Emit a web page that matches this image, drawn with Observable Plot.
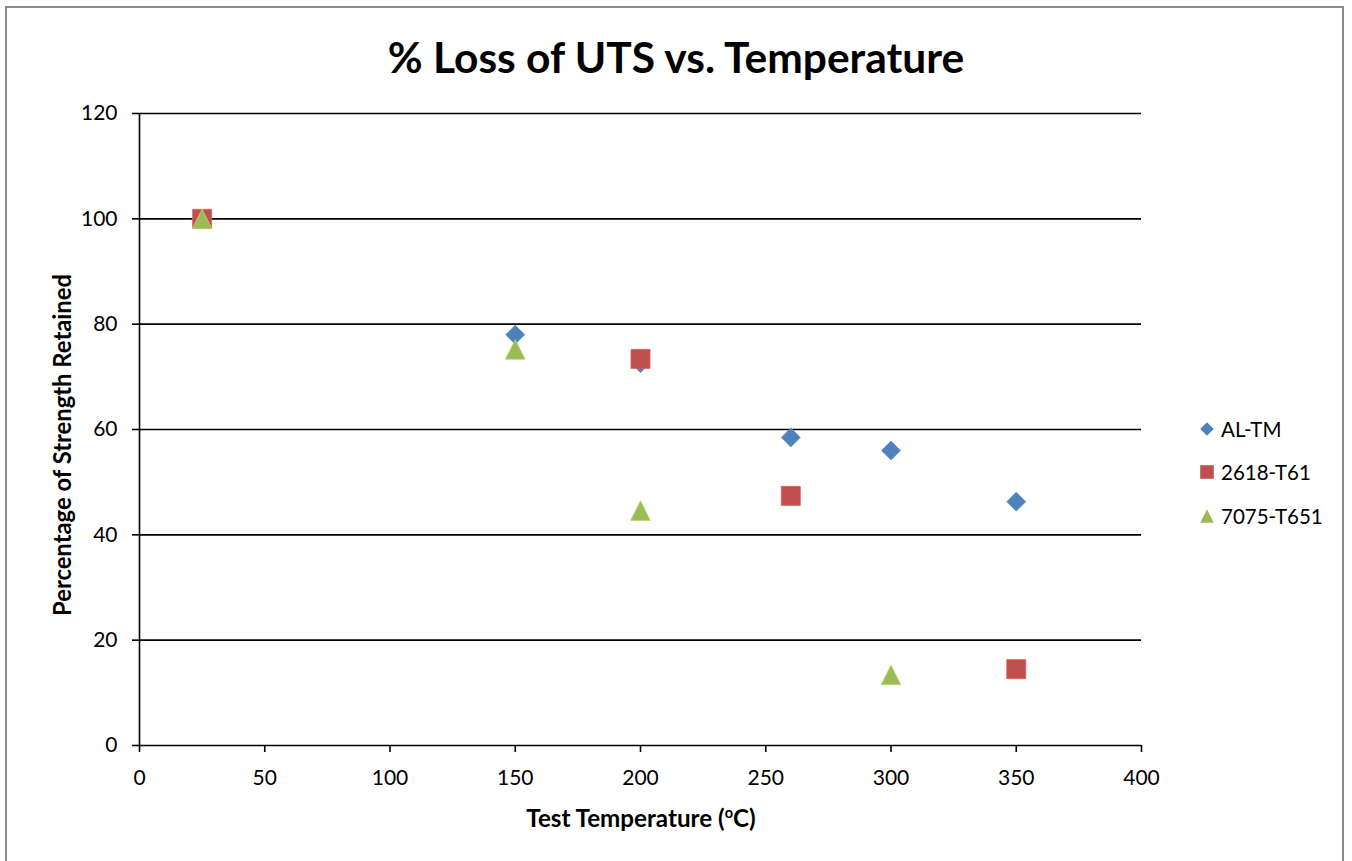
<!DOCTYPE html>
<html>
<head>
<meta charset="utf-8">
<script src="https://cdn.jsdelivr.net/npm/d3@7"></script>
<script src="https://cdn.jsdelivr.net/npm/@observablehq/plot@0.6"></script>
<style>
  html, body { margin: 0; padding: 0; background: #fff; }
  #wrap { position: relative; width: 1352px; height: 861px; overflow: hidden; font-family: Lato, "Open Sans", sans-serif; color: #000; }
  #frame { position: absolute; left: 5px; top: 6px; width: 1339px; height: 900px; border: 2px solid #8c8c8c; box-sizing: border-box; }
  #chart { position: absolute; left: 0; top: 0; }
  #title { position: absolute; left: 0; width: 1352px; top: 57px; transform: translateY(-50%); text-align: center; font-weight: bold; font-size: 42.5px; line-height: 1; }
  #ytitle { position: absolute; left: 62px; top: 445px; transform: translate(-50%, -50%) rotate(-90deg); white-space: nowrap; font-weight: bold; font-size: 23.8px; }
  #xtitle { position: absolute; left: 641px; top: 817px; transform: translate(-50%, -50%); white-space: nowrap; font-weight: bold; font-size: 24.2px; }
  #xtitle sup { font-size: 0.6em; vertical-align: 0.6em; line-height: 0; }
  #legend { position: absolute; left: 1198px; top: 407px; font-size: 20.5px; }
  .item { display: flex; align-items: center; height: 43.5px; margin-top: 0; }
  .item svg { margin-right: 5px; }
</style>
</head>
<body>
<div id="wrap">
  <div id="frame"></div>
  <div id="chart"></div>
  <div id="title">% Loss of UTS vs. Temperature</div>
  <div id="ytitle">Percentage of Strength Retained</div>
  <div id="xtitle">Test Temperature (<sup>o</sup>C)</div>
  <div id="legend"></div>
</div>
<script>
// ---- data ----
const seriesNames = ["AL-TM", "2618-T61", "7075-T651"];
const seriesColors = ["#4F81BD", "#C0504D", "#9BBB59"];

const alTmTemp = [25, 150, 200, 260, 300, 350];
const alTmPct  = [100, 78, 72.6, 58.5, 56, 46.3];

const t61Temp = [25, 200, 260, 350];
const t61Pct  = [100, 73.4, 47.4, 14.5];

const t651Temp = [25, 150, 200, 300];
const t651Pct  = [100, 75.2, 44.6, 13.4];

const xTicks = [0, 50, 100, 150, 200, 250, 300, 350, 400];
const yTicks = [0, 20, 40, 60, 80, 100, 120];

// ---- custom Excel-like marker shapes (r = half size) ----
const half = size => Math.sqrt(size / Math.PI);
const diamondSym = { draw(ctx, size) { const s = half(size); ctx.moveTo(0, -s); ctx.lineTo(s, 0); ctx.lineTo(0, s); ctx.lineTo(-s, 0); ctx.closePath(); } };
const squareSym = { draw(ctx, size) { const s = half(size); ctx.rect(-s, -s, 2 * s, 2 * s); } };
const triangleSym = { draw(ctx, size) { const s = half(size); ctx.moveTo(0, -s); ctx.lineTo(s, s); ctx.lineTo(-s, s); ctx.closePath(); } };
const symbols = [diamondSym, squareSym, triangleSym];
const sizes = [9.5, 9.5, 9.8];

const toRows = (xs, ys) => xs.map((x, i) => ({ x, y: ys[i] }));
const series = [toRows(alTmTemp, alTmPct), toRows(t61Temp, t61Pct), toRows(t651Temp, t651Pct)];

const chart = Plot.plot({
  width: 1352,
  height: 861,
  marginLeft: 139,
  marginRight: 211,
  marginTop: 113,
  marginBottom: 116,
  style: { fontFamily: "Lato, 'Open Sans', sans-serif", color: "#000", background: "transparent", overflow: "visible" },
  x: { domain: [0, 400], label: null },
  y: { domain: [0, 120], label: null },
  marks: [
    Plot.ruleY(yTicks.filter(d => d > 0), { stroke: "#000", strokeWidth: 1.6 }),
    Plot.axisY({ ticks: yTicks, tickSize: 7, tickPadding: 15, fontSize: 21, label: null, stroke: "#000", strokeWidth: 1.6 }),
    Plot.axisX({ ticks: xTicks, tickSize: 7, tickPadding: 18, fontSize: 21, label: null, stroke: "#000", strokeWidth: 1.6 }),
    Plot.ruleX([0], { stroke: "#000", strokeWidth: 1.6 }),
    Plot.ruleY([0], { stroke: "#000", strokeWidth: 1.6 }),
    ...series.map((rows, i) => Plot.dot(rows, {
      x: "x", y: "y", symbol: symbols[i], r: sizes[i],
      fill: seriesColors[i], stroke: d3.color(seriesColors[i]).brighter(0.4).formatHex(), strokeWidth: 0.8
    }))
  ]
});
document.getElementById("chart").appendChild(chart);

// ---- legend ----
const legend = d3.select("#legend");
seriesNames.forEach((name, i) => {
  const item = legend.append("div").attr("class", "item");
  const svg = item.append("svg").attr("width", 18).attr("height", 18);
  svg.append("path")
    .attr("transform", "translate(9,9)")
    .attr("d", d3.symbol(symbols[i], Math.PI * 6.8 * 6.8)())
    .attr("fill", seriesColors[i]);
  item.append("span").text(name);
});
</script>
</body>
</html>
